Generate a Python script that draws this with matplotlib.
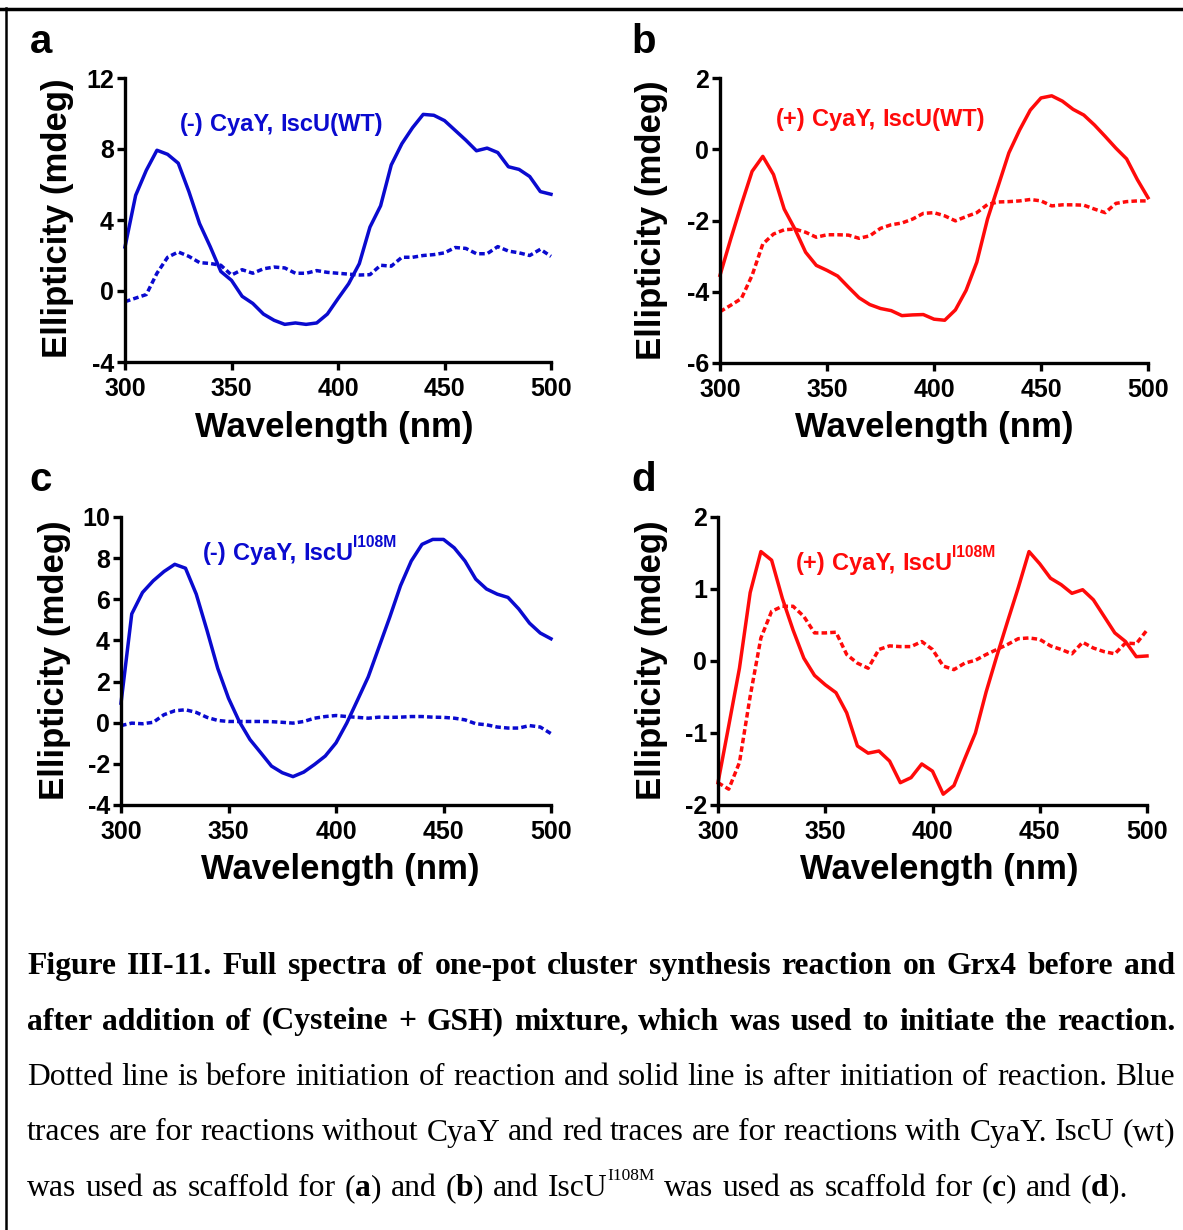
import numpy as np
import matplotlib
matplotlib.use("Agg")
import matplotlib.pyplot as plt
from matplotlib.lines import Line2D

plt.rcParams["axes.unicode_minus"] = False

W, H = 1183, 1230
wavelength = list(range(300, 505, 5))

a_after = [2.48, 5.39, 6.8, 7.93, 7.7, 7.2, 5.6, 3.8, 2.5, 1.1, 0.6, -0.3, -0.7, -1.3, -1.65, -1.88, -1.8, -1.88,
           -1.8, -1.3, -0.43, 0.41, 1.54, 3.6, 4.8, 7.1, 8.3, 9.2, 9.95, 9.9, 9.6, 9.05, 8.5, 7.9, 8.05, 7.8,
           7.0, 6.85, 6.45, 5.6, 5.45]
a_before = [-0.6, -0.4, -0.2, 1.0, 1.9, 2.2, 1.95, 1.6, 1.55, 1.45, 0.9, 1.2, 1.0, 1.25, 1.35, 1.3, 1.0, 1.0,
            1.15, 1.05, 1.0, 0.95, 0.9, 0.92, 1.45, 1.4, 1.9, 1.9, 2.0, 2.05, 2.15, 2.45, 2.4, 2.1, 2.1, 2.5,
            2.25, 2.15, 2.0, 2.35, 1.95]
b_after = [-3.54, -2.52, -1.55, -0.62, -0.2, -0.71, -1.68, -2.24, -2.89, -3.26, -3.4, -3.56, -3.87, -4.17,
           -4.36, -4.47, -4.53, -4.67, -4.65, -4.64, -4.77, -4.8, -4.51, -3.96, -3.17, -1.96, -1.03, -0.1,
           0.54, 1.1, 1.44, 1.5, 1.35, 1.12, 0.96, 0.68, 0.36, 0.03, -0.27, -0.85, -1.36]
b_before = [-4.56, -4.38, -4.19, -3.54, -2.66, -2.38, -2.26, -2.24, -2.33, -2.47, -2.4, -2.4, -2.41, -2.5,
            -2.43, -2.22, -2.12, -2.07, -1.96, -1.8, -1.78, -1.87, -2.01, -1.89, -1.78, -1.55, -1.48, -1.47,
            -1.45, -1.41, -1.45, -1.59, -1.56, -1.56, -1.57, -1.68, -1.78, -1.52, -1.47, -1.45, -1.45]
c_after = [0.95, 5.29, 6.33, 6.9, 7.35, 7.7, 7.51, 6.25, 4.49, 2.64, 1.19, 0.06, -0.82, -1.46, -2.11, -2.43,
           -2.62, -2.4, -2.03, -1.62, -0.98, -0.02, 1.1, 2.23, 3.68, 5.13, 6.66, 7.86, 8.67, 8.91, 8.91, 8.5,
           7.86, 6.98, 6.5, 6.25, 6.09, 5.53, 4.84, 4.36, 4.08]
c_before = [-0.14, -0.02, -0.05, 0.02, 0.39, 0.58, 0.63, 0.5, 0.26, 0.11, 0.06, 0.06, 0.06, 0.06, 0.05, 0.02,
            -0.02, 0.06, 0.22, 0.3, 0.35, 0.3, 0.26, 0.22, 0.27, 0.26, 0.27, 0.3, 0.3, 0.27, 0.26, 0.22, 0.14,
            -0.05, -0.1, -0.21, -0.26, -0.26, -0.14, -0.21, -0.53]
d_after = [-1.69, -0.9, -0.1, 0.95, 1.52, 1.4, 0.87, 0.43, 0.04, -0.2, -0.33, -0.44, -0.72, -1.18, -1.28,
           -1.25, -1.39, -1.69, -1.62, -1.43, -1.53, -1.85, -1.73, -1.36, -1.0, -0.43, 0.07, 0.55, 1.02, 1.52,
           1.35, 1.15, 1.06, 0.94, 0.99, 0.85, 0.62, 0.39, 0.27, 0.06, 0.07]
d_before = [-1.69, -1.78, -1.41, -0.49, 0.32, 0.69, 0.76, 0.76, 0.62, 0.39, 0.39, 0.4, 0.09, -0.03, -0.1, 0.16,
            0.21, 0.2, 0.2, 0.27, 0.16, -0.07, -0.12, -0.03, 0.01, 0.09, 0.16, 0.23, 0.31, 0.32, 0.3, 0.21,
            0.16, 0.1, 0.26, 0.18, 0.13, 0.1, 0.25, 0.24, 0.43]

x_ticks = [300, 350, 400, 450, 500]
a_yticks = [-4, 0, 4, 8, 12]
b_yticks = [-6, -4, -2, 0, 2]
c_yticks = [-4, -2, 0, 2, 4, 6, 8, 10]
d_yticks = [-2, -1, 0, 1, 2]

panel_letters = ["a", "b", "c", "d"]
xlabel = "Wavelength (nm)"
ylabel = "Ellipticity (mdeg)"

BLUE = "#0A0ACF"
RED = "#FF0A0A"

fig = plt.figure(figsize=(W / 100, H / 100), dpi=100)
renderer = fig.canvas.get_renderer()

SANS = "Liberation Sans"
SERIF = "Liberation Serif"


def fx(px):
    return px / W


def fy(py):
    return 1 - py / H


def axes_box(l, r, t, b):
    return [fx(l), fy(b), fx(r) - fx(l), (b - t) / H]


panels = [
    dict(box=axes_box(125, 551, 78, 362), after=a_after, before=a_before, yt=a_yticks, col=BLUE),
    dict(box=axes_box(720, 1148, 78, 363), after=b_after, before=b_before, yt=b_yticks, col=RED),
    dict(box=axes_box(121, 551, 517, 805), after=c_after, before=c_before, yt=c_yticks, col=BLUE),
    dict(box=axes_box(718, 1147, 517, 805), after=d_after, before=d_before, yt=d_yticks, col=RED),
]

for p in panels:
    ax = fig.add_axes(p["box"])
    ax.plot(wavelength, p["after"], color=p["col"], lw=2.5, solid_joinstyle="round", clip_on=False)
    ax.plot(wavelength, p["before"], color=p["col"], lw=2.5, ls=(0, (1.6, 0.9)), clip_on=False)
    ax.set_xlim(300, 500)
    ax.set_ylim(p["yt"][0], p["yt"][-1])
    ax.set_xticks(x_ticks)
    ax.set_yticks(p["yt"])
    for s in ["top", "right"]:
        ax.spines[s].set_visible(False)
    for s in ["left", "bottom"]:
        ax.spines[s].set_linewidth(2.4)
    ax.tick_params(width=2.4, length=6, direction="out")
    ax.tick_params(axis="x", pad=5)
    ax.tick_params(axis="y", pad=2)
    ax.set_facecolor("none")
    for lab in ax.get_xticklabels() + ax.get_yticklabels():
        lab.set_fontfamily(SANS)
        lab.set_fontweight("bold")
        lab.set_fontsize(18)

# axis labels
for (cx, cy) in [(334, 428), (934, 428), (340, 870), (939, 870)]:
    fig.text(fx(cx), fy(cy), xlabel, ha="center", va="center", fontsize=25,
             fontweight="bold", family=SANS)
for (cx, cy) in [(57, 218), (652, 220), (55, 660), (652, 660)]:
    fig.text(fx(cx), fy(cy), ylabel, ha="center", va="center", rotation=90,
             fontsize=25, fontweight="bold", family=SANS)

# panel letters
for letter, (cx, cy) in zip(panel_letters, [(41, 42), (644, 42), (41, 480), (644, 480)]):
    fig.text(fx(cx), fy(cy), letter, ha="center", va="center", fontsize=29,
             fontweight="bold", family=SANS)


def measure(s, **kw):
    t = fig.text(0, 0, s, **kw)
    w = t.get_window_extent(renderer).width
    t.remove()
    return w


def draw_runs(segs, x0, base, family, size, color="black", x1=None, sup_scale=0.55, sup_raise=0.55):
    """segs: list of (text, style) with style in 'r','b','sup','bsup'."""
    words = [[]]
    for text, style in segs:
        parts = text.split(" ")
        for i, part in enumerate(parts):
            if i > 0:
                words.append([])
            if part:
                words[-1].append((part, style))
    words = [w for w in words if w]

    def props(style):
        bold = style in ("b", "bsup")
        sup = style in ("sup", "bsup")
        return dict(family=family, fontsize=size * (sup_scale if sup else 1.0),
                    fontweight="bold" if bold else "normal", color=color), sup

    widths = []
    for w in words:
        tot = 0
        for piece, style in w:
            pr, _ = props(style)
            tot += measure(piece, **pr)
        widths.append(tot)
    base_style = segs[0][1] if segs[0][1] in ("r", "b") else "r"
    pr0, _ = props(base_style)
    space = measure("a a", **pr0) - measure("aa", **pr0)
    if x1 is not None and len(words) > 1:
        gap = (x1 - x0 - sum(widths)) / (len(words) - 1)
    else:
        gap = space
    x = x0
    for w, wd in zip(words, widths):
        for piece, style in w:
            pr, sup = props(style)
            yy = base - (size * sup_raise * 100 / 72 if sup else 0)
            t = fig.text(fx(x), fy(yy), piece, ha="left", va="baseline", **pr)
            x += t.get_window_extent(renderer).width
        x += gap
    return sum(widths) + gap * (len(words) - 1)


# in-panel annotations
draw_runs([("(-) CyaY, IscU(WT)", "b")], 180, 131, SANS, 17, color=BLUE)
draw_runs([("(+) CyaY, IscU(WT)", "b")], 776, 126, SANS, 17, color=RED)
draw_runs([("(-) CyaY, IscU", "b"), ("I108M", "bsup")], 203, 560, SANS, 17, color=BLUE,
          sup_scale=0.66, sup_raise=0.55)
draw_runs([("(+) CyaY, IscU", "b"), ("I108M", "bsup")], 796, 570, SANS, 17, color=RED,
          sup_scale=0.66, sup_raise=0.55)

# caption
cap_lines = [
    ([("Figure III-11. Full spectra of one-pot cluster synthesis reaction on Grx4 before and", "b")], 1175),
    ([("after addition of (Cysteine + GSH) mixture, which was used to initiate the reaction.", "b")], 1175),
    ([("Dotted line is before initiation of reaction and solid line is after initiation of reaction. Blue", "r")], 1175),
    ([("traces are for reactions without CyaY and red traces are for reactions with CyaY. IscU (wt)", "r")], 1175),
    ([("was used as scaffold for ", "r"), ("(", "r"), ("a", "b"), (")", "r"), (" and ", "r"), ("(", "r"),
      ("b", "b"), (") and IscU", "r"), ("I108M", "sup"), (" was used as scaffold for ", "r"), ("(", "r"),
      ("c", "b"), (") and ", "r"), ("(", "r"), ("d", "b"), (").", "r")], 1127),
]
cap_size = 23.7
# make sure the justified lines fit
for segs, x_end in cap_lines[:4]:
    pr = dict(family=SERIF, fontsize=cap_size, fontweight="bold" if segs[0][1] == "b" else "normal")
    txt = segs[0][0]
    nat = measure(txt, **pr)
    if nat > 1150:
        cap_size = cap_size * 1150 / nat

bases = [974, 1029.5, 1085, 1140.5, 1196]
for (segs, x_end), b in zip(cap_lines, bases):
    draw_runs(segs, 27, b, SERIF, cap_size, x1=x_end, sup_scale=0.55, sup_raise=0.5)

# frame lines (top and left)
fig.add_artist(Line2D([0, 1], [fy(9), fy(9)], color="black", lw=2.5, transform=fig.transFigure))
fig.add_artist(Line2D([fx(6), fx(6)], [fy(8), 0], color="black", lw=1.8, transform=fig.transFigure))

fig.savefig("out.png", dpi=100)
